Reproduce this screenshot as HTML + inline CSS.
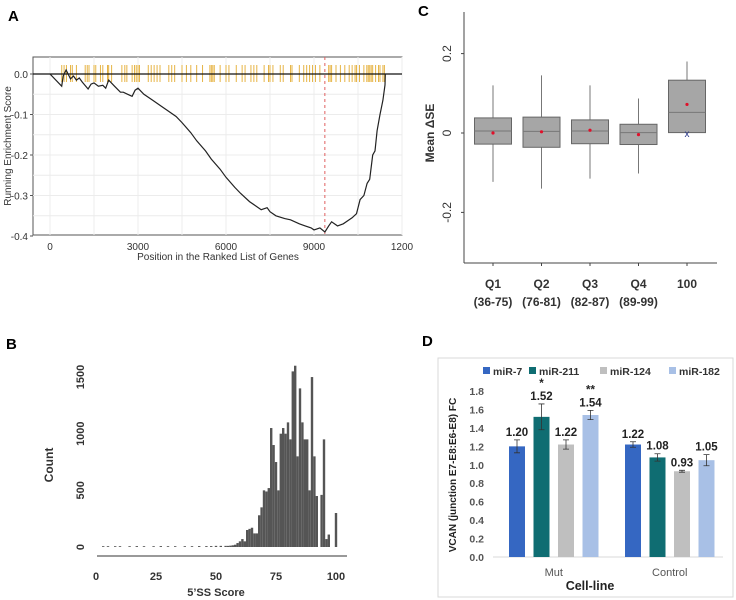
<!DOCTYPE html>
<html><head><meta charset="utf-8">
<style>
html,body{margin:0;padding:0;background:#fff;}
svg{display:block;font-family:"Liberation Sans",sans-serif;}
</style></head>
<body>
<svg id="fig" width="736" height="600" viewBox="0 0 736 600" xmlns="http://www.w3.org/2000/svg">
<g id="pA"></g>
<g id="pB"></g>
<g id="pC"></g>
<g id="pD"></g>
<text x="8" y="21" font-size="15" font-weight="bold">A</text>
<text x="6" y="349" font-size="15" font-weight="bold">B</text>
<text x="418" y="16" font-size="15" font-weight="bold">C</text>
<text x="422" y="346" font-size="15" font-weight="bold">D</text>
</svg>
<script>
// ---------- Panel A data ----------
const aPositions = [0,400,450,550,650,700,800,900,1000,1100,1300,1400,1500,1650,1800,1900,2000,2200,2400,2500,2650,2800,2900,3000,3200,3500,3800,4000,4300,4500,4800,5000,5300,5500,5800,6000,6300,6500,6800,7000,7200,7400,7500,7700,8000,8200,8500,8700,8900,9000,9200,9370,9500,9600,9800,10000,10200,10300,10450,10570,10700,10810,10900,11000,11080,11150,11250,11350,11420,11430];
const aScores = [0,-0.03,-0.005,0.01,-0.005,-0.012,-0.005,-0.015,-0.01,-0.02,-0.037,-0.025,-0.022,-0.03,-0.028,-0.035,-0.015,-0.03,-0.045,-0.045,-0.05,-0.055,-0.04,-0.035,-0.05,-0.065,-0.08,-0.09,-0.105,-0.12,-0.145,-0.165,-0.19,-0.21,-0.235,-0.255,-0.28,-0.295,-0.315,-0.325,-0.335,-0.33,-0.34,-0.35,-0.357,-0.36,-0.37,-0.375,-0.38,-0.385,-0.38,-0.39,-0.375,-0.365,-0.375,-0.37,-0.36,-0.355,-0.345,-0.31,-0.3,-0.27,-0.26,-0.2,-0.19,-0.14,-0.1,-0.065,-0.027,0];
const aHits = [400,480,560,700,760,900,1200,1270,1330,1500,1560,1720,1800,1960,2000,2100,2450,2550,2620,2800,2880,2940,3000,3050,3350,3450,3550,3650,3750,4050,4150,4250,4500,4650,4800,5000,5200,5450,5500,5550,5600,5800,6000,6100,6350,6550,6650,6850,6950,7050,7300,7450,7500,7600,7850,7950,8200,8250,8500,8650,8750,8850,8950,9050,9200,9500,9550,9600,9750,9900,10050,10200,10300,10400,10450,10550,10700,10800,10850,10900,10950,11000,11100,11200,11250,11350,11400];
const aXTicks = [0,3000,6000,9000,12000];
const aXTickLabels = ["0","3000","6000","9000","1200"];
const aYTicks = [0,-0.1,-0.2,-0.3,-0.4];
const aYTickLabels = ["0.0","-0.1","-0.2","-0.3","-0.4"];
const aPeak = 9370;
// ---------- Panel B data ----------
const bScores = [3,5,8,10,14,17,20,24,27,30,33,37,40,43,46,48,50,52,54,55,56,57,58,59,60,61,62,63,64,65,66,67,68,69,70,71,72,73,74,75,76,77,78,79,80,81,82,83,84,85,86,87,88,89,90,91,92,94,95,96,97,100];
const bCounts = [5,5,5,5,5,8,5,5,8,5,5,5,5,8,8,8,10,10,10,10,12,15,20,35,50,70,50,150,160,170,120,120,280,350,500,490,520,1050,900,750,500,1000,1050,1000,1100,950,1550,1600,800,1400,1100,950,950,500,1500,800,450,460,950,70,110,300];
const bXTicks = [0,25,50,75,100];
const bYTicks = [0,500,1000,1500];
// ---------- Panel C data ----------
const cCats = ["Q1","Q2","Q3","Q4","100"];
const cRanges = ["(36-75)","(76-81)","(82-87)","(89-99)",""];
const cWhiskLo = [-0.123,-0.14,-0.115,-0.102,0.001];
const cQ1 = [-0.028,-0.036,-0.027,-0.029,0.001];
const cMed = [0.005,0.004,0.005,0.001,0.052];
const cQ3 = [0.038,0.04,0.033,0.022,0.133];
const cWhiskHi = [0.12,0.145,0.12,0.087,0.18];
const cMean = [0,0.003,0.007,-0.004,0.072];
const cYTicks = [0.2,0,-0.2];
const cYTickLabels = ["0.2","0","-0.2"];
// ---------- Panel D data ----------
const dGroups = ["Mut","Control"];
const dSeries = ["miR-7","miR-211","miR-124","miR-182"];
const dColors = ["#3567c2","#0f6d72","#bfbfbf","#a8c0e6"];
const dMut = [1.20,1.52,1.22,1.54];
const dControl = [1.22,1.08,0.93,1.05];
const dMutErr = [0.07,0.14,0.05,0.05];
const dControlErr = [0.03,0.04,0.01,0.06];
const dMutStars = ["","*","","**"];
const dYTicks = [0,0.2,0.4,0.6,0.8,1.0,1.2,1.4,1.6,1.8];

const NS="http://www.w3.org/2000/svg";
function mk(parent,tag,attrs,text){const e=document.createElementNS(NS,tag);for(const k in attrs)e.setAttribute(k,attrs[k]);if(text!==undefined)e.textContent=text;parent.appendChild(e);return e;}

// ===== Panel A =====
(function(){
const g=document.getElementById('pA');
const L=33,R=402,T=57,B=235;
const x=v=>50+(v-0)*(88/3000);
const y=v=>74+(-v)*405;
let e=mk(g,'rect',{x:L,y:T,width:R-L,height:B-T,fill:'#fff',stroke:'#555','stroke-width':1});

for(let v=0.05;v>-0.45;v-=0.05){const yy=y(v);if(yy<T||yy>B)continue;
 e=mk(g,'line',{x1:L,x2:R,y1:yy,y2:yy,stroke:'#ececec','stroke-width':1});
 }
for(let v=0;v<=12000;v+=1500){const xx=x(v);if(xx>R)continue;
 e=mk(g,'line',{x1:xx,x2:xx,y1:T,y2:B,stroke:'#ececec','stroke-width':1});
 }
aHits.forEach(h=>{e=mk(g,'line',{x1:x(h),x2:x(h),y1:65,y2:82,stroke:'#e6b445','stroke-width':1});
 });
e=mk(g,'line',{x1:L,x2:R,y1:y(0),y2:y(0),stroke:'#111','stroke-width':1.2});

e=mk(g,'line',{x1:x(aPeak),x2:x(aPeak),y1:T,y2:B,stroke:'#e06060','stroke-width':1,'stroke-dasharray':'3,3'});

let d=aPositions.map((p,i)=>(i?'L':'M')+x(p).toFixed(1)+','+y(aScores[i]).toFixed(1)).join('');
e=mk(g,'path',{d:d,fill:'none',stroke:'#222','stroke-width':1.2});

aYTicks.forEach((v,i)=>{e=mk(g,'text',{x:28,y:y(v)+4,'font-size':10,'text-anchor':'end',fill:'#333'},aYTickLabels[i]);
 
 mk(g,'line',{x1:L-3,x2:L,y1:y(v),y2:y(v),stroke:'#555'});});
aXTicks.forEach((v,i)=>{e=mk(g,'text',{x:x(v),y:250,'font-size':10,'text-anchor':'middle',fill:'#333'},aXTickLabels[i]);
 });
e=mk(g,'text',{x:218,y:260,'font-size':10,'text-anchor':'middle',fill:'#333'},'Position in the Ranked List of Genes');

e=mk(g,'text',{x:0,y:0,'font-size':10,'text-anchor':'middle',fill:'#333',transform:'translate(11,146) rotate(-90)'},'Running Enrichment Score');

})();

// ===== Panel B =====
(function(){
const g=document.getElementById('pB');
const x=v=>96+v*2.4;
const y=v=>547-v*0.1133;
bScores.forEach((s,i)=>{const h=bCounts[i]*0.1133;
 const e=mk(g,'rect',{x:x(s-0.5),y:547-Math.max(h,0.8),width:2.4,height:Math.max(h,0.8),fill:'#555'});
 });
let e=mk(g,'line',{x1:97,x2:347,y1:556,y2:556,stroke:'#333','stroke-width':1});

bXTicks.forEach(v=>{e=mk(g,'text',{x:x(v),y:580,'font-size':11,'font-weight':'bold','text-anchor':'middle',fill:'#333'},String(v));
 });
bYTicks.forEach(v=>{e=mk(g,'text',{x:0,y:0,'font-size':11,'font-weight':'bold','text-anchor':'middle',fill:'#333',transform:'translate(84,'+y(v)+') rotate(-90)'},String(v));
 });
e=mk(g,'text',{x:216,y:596,'font-size':11,'font-weight':'bold','text-anchor':'middle',fill:'#333'},'5’SS Score');

e=mk(g,'text',{x:0,y:0,'font-size':12,'font-weight':'bold','text-anchor':'middle',fill:'#333',transform:'translate(53,465) rotate(-90)'},'Count');

})();

// ===== Panel C =====
(function(){
const g=document.getElementById('pC');
const y=v=>133-v*397;
const cx=i=>493+i*48.5;
const bw=37;
let e=mk(g,'line',{x1:464,x2:464,y1:12,y2:263,stroke:'#444'});

e=mk(g,'line',{x1:464,x2:717,y1:263,y2:263,stroke:'#444'});

cCats.forEach((c,i)=>{const X=cx(i);
 e=mk(g,'line',{x1:X,x2:X,y1:y(cWhiskHi[i]),y2:y(cWhiskLo[i]),stroke:'#777','stroke-width':1});
 
 e=mk(g,'rect',{x:X-bw/2,y:y(cQ3[i]),width:bw,height:y(cQ1[i])-y(cQ3[i]),fill:'#a6a6a6',stroke:'#666','stroke-width':1});
 
 e=mk(g,'line',{x1:X-bw/2,x2:X+bw/2,y1:y(cMed[i]),y2:y(cMed[i]),stroke:'#777','stroke-width':1});
 
 e=mk(g,'circle',{cx:X,cy:y(cMean[i]),r:1.6,fill:'#e0102a'});
 
 mk(g,'line',{x1:X,x2:X,y1:263,y2:266,stroke:'#444'});
 e=mk(g,'text',{x:X,y:288,'font-size':12,'font-weight':'bold','text-anchor':'middle',fill:'#333'},c);
 
 if(cRanges[i]){e=mk(g,'text',{x:X,y:306,'font-size':12,'font-weight':'bold','text-anchor':'middle',fill:'#333'},cRanges[i]);
 }
});
e=mk(g,'text',{x:cx(4),y:y(0)+4,'font-size':10,'text-anchor':'middle',fill:'#2b3a8c'},'x');

cYTicks.forEach((v,i)=>{mk(g,'line',{x1:461,x2:464,y1:y(v),y2:y(v),stroke:'#444'});
 e=mk(g,'text',{x:0,y:0,'font-size':12,'text-anchor':'middle',fill:'#333',transform:'translate(451,'+y(v)+') rotate(-90)'},cYTickLabels[i]);
 });
e=mk(g,'text',{x:0,y:0,'font-size':12,'font-weight':'bold','text-anchor':'middle',fill:'#333',transform:'translate(434,133) rotate(-90)'},'Mean ΔSE');

})();

// ===== Panel D =====
(function(){
const g=document.getElementById('pD');
const y=v=>557-v*92.2;
const groupX=[517,633];
const step=24.5, bw=16;
let e=mk(g,'rect',{x:438,y:358,width:295,height:239,fill:'#fff',stroke:'#d9d9d9'});

const legX=[483,529,600,669];
dSeries.forEach((s,i)=>{e=mk(g,'rect',{x:legX[i],y:367,width:7,height:7,fill:dColors[i]});
 
 e=mk(g,'text',{x:legX[i]+10,y:375,'font-size':10.5,'font-weight':'bold',fill:'#333'},s);
 });
dYTicks.forEach(v=>{e=mk(g,'text',{x:484,y:y(v)+4,'font-size':10.5,'font-weight':'bold','text-anchor':'end',fill:'#555'},v.toFixed(1));
 });
e=mk(g,'line',{x1:493,x2:723,y1:y(0),y2:y(0),stroke:'#d9d9d9'});

const vals=[dMut,dControl], errs=[dMutErr,dControlErr];
dGroups.forEach((gr,gi)=>{
 dSeries.forEach((s,i)=>{const X=groupX[gi]+i*step, v=vals[gi][i], er=errs[gi][i];
  e=mk(g,'rect',{x:X-bw/2,y:y(v),width:bw,height:y(0)-y(v),fill:dColors[i]});
  
  e=mk(g,'path',{d:`M${X},${y(v+er)}V${y(v-er)}M${X-3},${y(v+er)}H${X+3}M${X-3},${y(v-er)}H${X+3}`,stroke:'#333','stroke-width':0.8,fill:'none'});
  
  e=mk(g,'text',{x:X,y:y(v+er)-4,'font-size':11.5,'font-weight':'bold','text-anchor':'middle',fill:'#222'},v.toFixed(2));
  
  if(gi===0&&dMutStars[i]){e=mk(g,'text',{x:X,y:y(v+er)-17,'font-size':11.5,'font-weight':'bold','text-anchor':'middle',fill:'#222'},dMutStars[i]);
  }
 });
 e=mk(g,'text',{x:groupX[gi]+1.5*step,y:576,'font-size':11,'text-anchor':'middle',fill:'#555'},gr);
 
});
e=mk(g,'text',{x:590,y:590,'font-size':12.5,'font-weight':'bold','text-anchor':'middle',fill:'#222'},'Cell-line');

e=mk(g,'text',{x:0,y:0,'font-size':10,'font-weight':'bold','text-anchor':'middle',fill:'#222',transform:'translate(456,475) rotate(-90)'},'VCAN (junction E7-E8:E6-E8) FC');

})();
</script>
</body></html>
